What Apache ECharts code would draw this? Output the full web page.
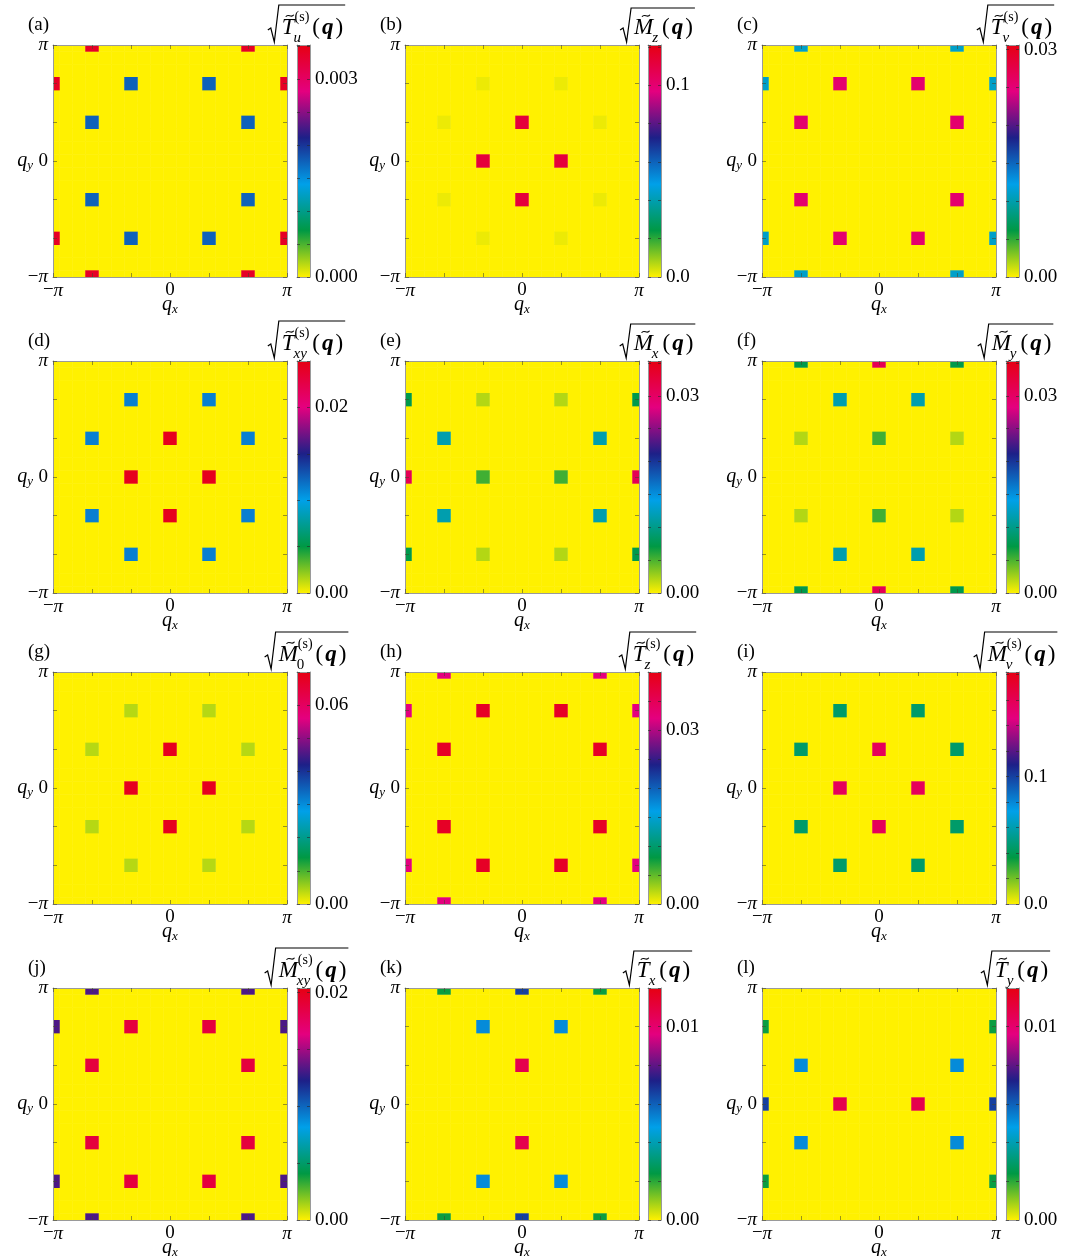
<!DOCTYPE html>
<html>
<head>
<meta charset="utf-8">
<script src="https://cdn.jsdelivr.net/npm/echarts@6/dist/echarts.min.js"></script>
<style>
  html, body { margin: 0; padding: 0; background: #ffffff; }
  #chart { width: 1073px; height: 1256px; }
</style>
</head>
<body>
<div id="chart"></div>
<script>
const FONT = '"Liberation Serif", "Times New Roman", serif';

// colour scale: yellow -> green -> cyan -> navy -> magenta -> red (evenly spaced)
const paletteColors = ['#fff100', '#009944', '#00a0e9', '#1d2088', '#e4007f', '#e60012'];

// momentum grid: q runs over [-π, π] in steps of π/9; all positions below are in units of π/3
const CELL = 1 / 3;
const Q_LIMIT = 3;
const qTickValues = [-3, 0, 3];
const qTickTexts = ['−π', '0', 'π'];

const panelTags = ['(a)', '(b)', '(c)', '(d)', '(e)', '(f)', '(g)', '(h)', '(i)', '(j)', '(k)', '(l)'];
const titleSymbol = ['T', 'M', 'T', 'T', 'M', 'M', 'M', 'T', 'M', 'M', 'T', 'T'];
const titleSub = ['u', 'z', 'v', 'xy', 'x', 'y', '0', 'z', 'v', 'xy', 'x', 'y'];
const titleSup = ['(s)', '', '(s)', '(s)', '', '', '(s)', '(s)', '(s)', '(s)', '', ''];

// colour-bar ranges, minor tick spacing and labelled values
const colorMax = [0.00352, 0.121, 0.0306, 0.025, 0.0353, 0.0353, 0.070, 0.040, 0.182, 0.0204, 0.012, 0.012];
const colorTickStep = [0.0005, 0.02, 0.005, 0.005, 0.005, 0.005, 0.01, 0.005, 0.02, 0.005, 0.002, 0.002];
const colorTickLabels = [
  ['0.000', '0.003'], ['0.0', '0.1'], ['0.00', '0.03'],
  ['0.00', '0.02'], ['0.00', '0.03'], ['0.00', '0.03'],
  ['0.00', '0.06'], ['0.00', '0.03'], ['0.0', '0.1'],
  ['0.00', '0.02'], ['0.00', '0.01'], ['0.00', '0.01']
];

// non-zero structure-factor peaks: [qx, qy, value], q in units of π/3
const peaksA = [
  [-2, 3, 0.0034], [2, 3, 0.0034], [-2, -3, 0.0034], [2, -3, 0.0034],
  [-3, 2, 0.0034], [3, 2, 0.0034], [-3, -2, 0.0034], [3, -2, 0.0034],
  [-1, 2, 0.00175], [1, 2, 0.00175], [-1, -2, 0.00175], [1, -2, 0.00175],
  [-2, 1, 0.00175], [2, 1, 0.00175], [-2, -1, 0.00175], [2, -1, 0.00175]
];
const peaksB = [
  [0, 1, 0.112], [0, -1, 0.112], [1, 0, 0.112], [-1, 0, 0.112],
  [-1, 2, 0.0018], [1, 2, 0.0018], [-1, -2, 0.0018], [1, -2, 0.0018],
  [-2, 1, 0.0018], [2, 1, 0.0018], [-2, -1, 0.0018], [2, -1, 0.0018]
];
const peaksC = [
  [-1, 2, 0.0255], [1, 2, 0.0255], [-1, -2, 0.0255], [1, -2, 0.0255],
  [-2, 1, 0.0255], [2, 1, 0.0255], [-2, -1, 0.0255], [2, -1, 0.0255],
  [-2, 3, 0.011], [2, 3, 0.011], [-2, -3, 0.011], [2, -3, 0.011],
  [-3, 2, 0.011], [3, 2, 0.011], [-3, -2, 0.011], [3, -2, 0.011]
];
const peaksD = [
  [0, 1, 0.0245], [0, -1, 0.0245], [1, 0, 0.0245], [-1, 0, 0.0245],
  [-1, 2, 0.0113], [1, 2, 0.0113], [-1, -2, 0.0113], [1, -2, 0.0113],
  [-2, 1, 0.0113], [2, 1, 0.0113], [-2, -1, 0.0113], [2, -1, 0.0113]
];
const peaksE = [
  [-3, 2, 0.0074], [3, 2, 0.0074], [-3, -2, 0.0074], [3, -2, 0.0074],
  [-1, 2, 0.0021], [1, 2, 0.0021], [-1, -2, 0.0021], [1, -2, 0.0021],
  [-2, 1, 0.0116], [2, 1, 0.0116], [-2, -1, 0.0116], [2, -1, 0.0116],
  [-3, 0, 0.031], [3, 0, 0.031],
  [-1, 0, 0.0053], [1, 0, 0.0053]
];
const peaksF = [
  [2, -3, 0.0074], [2, 3, 0.0074], [-2, -3, 0.0074], [-2, 3, 0.0074],
  [2, -1, 0.0021], [2, 1, 0.0021], [-2, -1, 0.0021], [-2, 1, 0.0021],
  [1, -2, 0.0116], [1, 2, 0.0116], [-1, -2, 0.0116], [-1, 2, 0.0116],
  [0, -3, 0.031], [0, 3, 0.031],
  [0, -1, 0.0053], [0, 1, 0.0053]
];
const peaksG = [
  [0, 1, 0.0685], [0, -1, 0.0685], [1, 0, 0.0685], [-1, 0, 0.0685],
  [-1, 2, 0.004], [1, 2, 0.004], [-1, -2, 0.004], [1, -2, 0.004],
  [-2, 1, 0.004], [2, 1, 0.004], [-2, -1, 0.004], [2, -1, 0.004]
];
const peaksH = [
  [-1, 2, 0.0385], [1, 2, 0.0385], [-1, -2, 0.0385], [1, -2, 0.0385],
  [-2, 1, 0.0385], [2, 1, 0.0385], [-2, -1, 0.0385], [2, -1, 0.0385],
  [-2, 3, 0.032], [2, 3, 0.032], [-2, -3, 0.032], [2, -3, 0.032],
  [-3, 2, 0.032], [3, 2, 0.032], [-3, -2, 0.032], [3, -2, 0.032]
];
const peaksI = [
  [0, 1, 0.158], [0, -1, 0.158], [1, 0, 0.158], [-1, 0, 0.158],
  [-1, 2, 0.0445], [1, 2, 0.0445], [-1, -2, 0.0445], [1, -2, 0.0445],
  [-2, 1, 0.0445], [2, 1, 0.0445], [-2, -1, 0.0445], [2, -1, 0.0445]
];
const peaksJ = [
  [-1, 2, 0.0188], [1, 2, 0.0188], [-1, -2, 0.0188], [1, -2, 0.0188],
  [-2, 1, 0.0188], [2, 1, 0.0188], [-2, -1, 0.0188], [2, -1, 0.0188],
  [-2, 3, 0.0132], [2, 3, 0.0132], [-2, -3, 0.0132], [2, -3, 0.0132],
  [-3, 2, 0.0132], [3, 2, 0.0132], [-3, -2, 0.0132], [3, -2, 0.0132]
];
const peaksK = [
  [-2, 3, 0.0023], [2, 3, 0.0023], [-2, -3, 0.0023], [2, -3, 0.0023],
  [0, 3, 0.0066], [0, -3, 0.0066],
  [-1, 2, 0.0052], [1, 2, 0.0052], [-1, -2, 0.0052], [1, -2, 0.0052],
  [0, 1, 0.0107], [0, -1, 0.0107]
];
const peaksL = [
  [3, -2, 0.0023], [3, 2, 0.0023], [-3, -2, 0.0023], [-3, 2, 0.0023],
  [3, 0, 0.0066], [-3, 0, 0.0066],
  [2, -1, 0.0052], [2, 1, 0.0052], [-2, -1, 0.0052], [-2, 1, 0.0052],
  [1, 0, 0.0107], [-1, 0, 0.0107]
];
const panelPeaks = [peaksA, peaksB, peaksC, peaksD, peaksE, peaksF, peaksG, peaksH, peaksI, peaksJ, peaksK, peaksL];

// page layout
const colLeft = [53, 405, 762];
const rowTop = [45, 361, 672, 988];
const PLOT_W = 234, PLOT_H = 232;
const barLeft = [297, 648, 1006];
const BAR_W = 13;
const FRAME = '#9a9a9a';
const TICK = 'rgba(70, 70, 40, 0.55)';

// full lattice of cells for one panel: zero background plus the listed peaks
function latticeCells(peaks) {
  const lookup = new Map();
  peaks.forEach(p => lookup.set(Math.round(p[0] * 3) + ',' + Math.round(p[1] * 3), p[2]));
  const zeros = [], marks = [];
  for (let ix = -9; ix <= 9; ix++) {
    for (let iy = -9; iy <= 9; iy++) {
      const key = ix + ',' + iy;
      if (lookup.has(key)) marks.push([ix / 3, iy / 3, lookup.get(key)]);
      else zeros.push([ix / 3, iy / 3, 0]);
    }
  }
  return zeros.concat(marks);
}

function renderCell(params, api) {
  const c = api.coord([api.value(0), api.value(1)]);
  const s = api.size([CELL, CELL]);
  return {
    type: 'rect',
    shape: { x: c[0] - s[0] / 2 - 0.25, y: c[1] - s[1] / 2 - 0.25, width: s[0] + 0.5, height: s[1] + 0.5 },
    style: { fill: api.visual('color') }
  };
}

const barGradientStops = paletteColors.map((c, k) => ({ offset: k / (paletteColors.length - 1), color: c }));
function renderBar(params, api) {
  const p0 = api.coord([0, 0]);
  const p1 = api.coord([1, api.value(1)]);
  return {
    type: 'rect',
    shape: { x: p0[0], y: p1[1], width: p1[0] - p0[0], height: p0[1] - p1[1] },
    style: { fill: new echarts.graphic.LinearGradient(0, 1, 0, 0, barGradientStops) }
  };
}

function richPiText(str) {
  return str.split('').map(ch => (ch === 'π' ? '{p|π}' : '{t|' + ch + '}')).join('');
}
function qTickFormatter(v) {
  const k = qTickValues.findIndex(t => Math.abs(t - v) < 1e-9);
  return k < 0 ? '' : richPiText(qTickTexts[k]);
}
const tickRich = {
  t: { fontFamily: FONT, fontSize: 19, color: '#000' },
  p: { fontFamily: FONT, fontSize: 19, fontStyle: 'italic', color: '#000' }
};
const nameRich = {
  i: { fontFamily: FONT, fontSize: 20, fontStyle: 'italic', color: '#000' },
  s: { fontFamily: FONT, fontSize: 13, fontStyle: 'italic', color: '#000', padding: [9, 0, 0, 0] }
};

const grids = [], xAxes = [], yAxes = [], series = [], visualMaps = [], graphics = [];

function frameAxis(extra) {
  return Object.assign({
    type: 'value', z: 10,
    axisLine: { show: true, onZero: false, lineStyle: { color: FRAME, width: 1 } },
    axisTick: { show: false },
    axisLabel: { show: false },
    splitLine: { show: false },
    nameMoveOverlap: false
  }, extra);
}

// text width measurement for the colour-bar titles
const measureCtx = document.createElement('canvas').getContext('2d');
function measure(str, font) { measureCtx.font = font; return measureCtx.measureText(str).width; }
function textEl(str, x, y, font) {
  return { type: 'text', x: x, y: y, silent: true, style: { text: str, font: font, fill: '#000', align: 'left', verticalAlign: 'middle' } };
}

// √( X̃_sub^sup (q) ) title above a colour bar
const TITLE_FS = 23;
function titleElements(i, cx, plotTop) {
  const sym = titleSymbol[i], sub = titleSub[i], sup = titleSup[i];
  const fMain = 'italic ' + TITLE_FS + 'px ' + FONT;
  const fSub = (/^[a-z]+$/.test(sub) ? 'italic ' : '') + '15px ' + FONT;
  const fSup = '14px ' + FONT;
  const fParen = TITLE_FS + 'px ' + FONT;
  const fBold = 'italic bold ' + TITLE_FS + 'px ' + FONT;
  const wSym = measure(sym, fMain), wSub = measure(sub, fSub), wSup = sup ? measure(sup, fSup) : 0;
  const wP = measure('(', fParen), wQ = measure('q', fBold);
  const scriptW = Math.max(wSub, wSup);
  const radW = 11;
  const contentW = wSym + scriptW + 3 + wP + 2 + wQ + 2 + wP;
  const total = radW + 3 + contentW;
  const x0 = cx + 2 - total / 2;
  const base = plotTop - 9;
  const over = plotTop - (sup ? 40 : 37);
  const mid = base - 0.33 * TITLE_FS;
  const els = [];
  els.push({
    type: 'polyline', silent: true,
    shape: { points: [[x0, base - 6], [x0 + 3, base - 8], [x0 + 6.5, base + 6], [x0 + radW, over], [x0 + total + 2, over]] },
    style: { stroke: '#000', lineWidth: 1.2, fill: 'none' }
  });
  let x = x0 + radW + 3;
  els.push(textEl(sym, x, mid, fMain));
  const tx = x + wSym * 0.62, ty = base - 0.66 * TITLE_FS - 5;
  els.push({
    type: 'bezierCurve', silent: true,
    shape: { x1: tx - 4, y1: ty + 1, cpx1: tx - 1.5, cpy1: ty - 3, cpx2: tx + 1.5, cpy2: ty + 3, x2: tx + 4, y2: ty - 1 },
    style: { stroke: '#000', lineWidth: 1.1, fill: 'none' }
  });
  x += wSym - 1;
  els.push(textEl(sub, x, base + 2, fSub));
  if (sup) els.push(textEl(sup, x + 1, base - 19, fSup));
  x += scriptW + 4;
  els.push(textEl('(', x, mid, fParen)); x += wP + 2;
  els.push(textEl('q', x, mid, fBold)); x += wQ + 2;
  els.push(textEl(')', x, mid, fParen));
  return els;
}

panelPeaks.forEach((peaks, i) => {
  const col = i % 3, row = Math.floor(i / 3);
  const left = colLeft[col], top = rowTop[row];

  // map panel
  const g = grids.length;
  grids.push({ left: left, top: top, width: PLOT_W, height: PLOT_H, show: false, outerBoundsMode: 'none' });
  const xi = xAxes.length, yi = yAxes.length;
  const qAxisBase = {
    gridIndex: g, min: -Q_LIMIT, max: Q_LIMIT, interval: 1,
    axisTick: { show: true, inside: true, length: 4, lineStyle: { color: TICK, width: 1 } }
  };
  xAxes.push(frameAxis(Object.assign({}, qAxisBase, {
    position: 'bottom',
    axisLabel: { show: true, margin: 4, formatter: qTickFormatter, rich: tickRich },
    name: '{i|q}{s|x}', nameLocation: 'middle', nameGap: 17,
    nameTextStyle: { rich: nameRich }
  })));
  xAxes.push(frameAxis(Object.assign({}, qAxisBase, { position: 'top' })));
  yAxes.push(frameAxis(Object.assign({}, qAxisBase, {
    position: 'left',
    axisLabel: { show: true, margin: 5, formatter: qTickFormatter, rich: tickRich },
    name: '{i|q}{s|y}', nameLocation: 'middle', nameRotate: 0, nameGap: 20,
    nameTextStyle: { rich: nameRich }
  })));
  yAxes.push(frameAxis(Object.assign({}, qAxisBase, { position: 'right' })));
  const si = series.length;
  series.push({
    type: 'custom', xAxisIndex: xi, yAxisIndex: yi, clip: true, silent: true,
    renderItem: renderCell, data: latticeCells(peaks), z: 2
  });
  visualMaps.push({
    type: 'continuous', show: false, seriesIndex: si, dimension: 2,
    min: 0, max: colorMax[i], inRange: { color: paletteColors }
  });

  // colour bar
  const gb = grids.length;
  grids.push({ left: barLeft[col], top: top, width: BAR_W, height: PLOT_H, show: false, outerBoundsMode: 'none' });
  const bxi = xAxes.length, byi = yAxes.length;
  xAxes.push(frameAxis({ gridIndex: gb, min: 0, max: 1, position: 'bottom' }));
  xAxes.push(frameAxis({ gridIndex: gb, min: 0, max: 1, position: 'top' }));
  const labelVals = colorTickLabels[i].map(Number);
  const step = colorTickStep[i];
  const barAxisBase = {
    gridIndex: gb, min: 0, max: colorMax[i], interval: step,
    axisTick: { show: true, inside: true, length: 3, lineStyle: { color: 'rgba(40,40,40,0.6)', width: 1 } }
  };
  yAxes.push(frameAxis(Object.assign({}, barAxisBase, { position: 'left' })));
  yAxes.push(frameAxis(Object.assign({}, barAxisBase, {
    position: 'right',
    axisLabel: {
      show: true, margin: 5, color: '#000', fontFamily: FONT, fontSize: 19,
      formatter: v => {
        const k = labelVals.findIndex(t => Math.abs(t - v) < step * 0.01);
        return k < 0 ? '' : colorTickLabels[i][k];
      }
    }
  })));
  series.push({
    type: 'custom', xAxisIndex: bxi, yAxisIndex: byi, silent: true,
    renderItem: renderBar, data: [[0, colorMax[i]]], z: 2
  });

  // panel tag and colour-bar title
  graphics.push(textEl(panelTags[i], left - 25, top - 20, '19px ' + FONT));
  titleElements(i, barLeft[col] + BAR_W / 2, top).forEach(e => graphics.push(e));
});

const chart = echarts.init(document.getElementById('chart'), null, { renderer: 'canvas' });
chart.setOption({
  animation: false,
  backgroundColor: '#ffffff',
  textStyle: { fontFamily: FONT },
  grid: grids,
  xAxis: xAxes,
  yAxis: yAxes,
  visualMap: visualMaps,
  series: series,
  graphic: { elements: graphics }
});
</script>
</body>
</html>
